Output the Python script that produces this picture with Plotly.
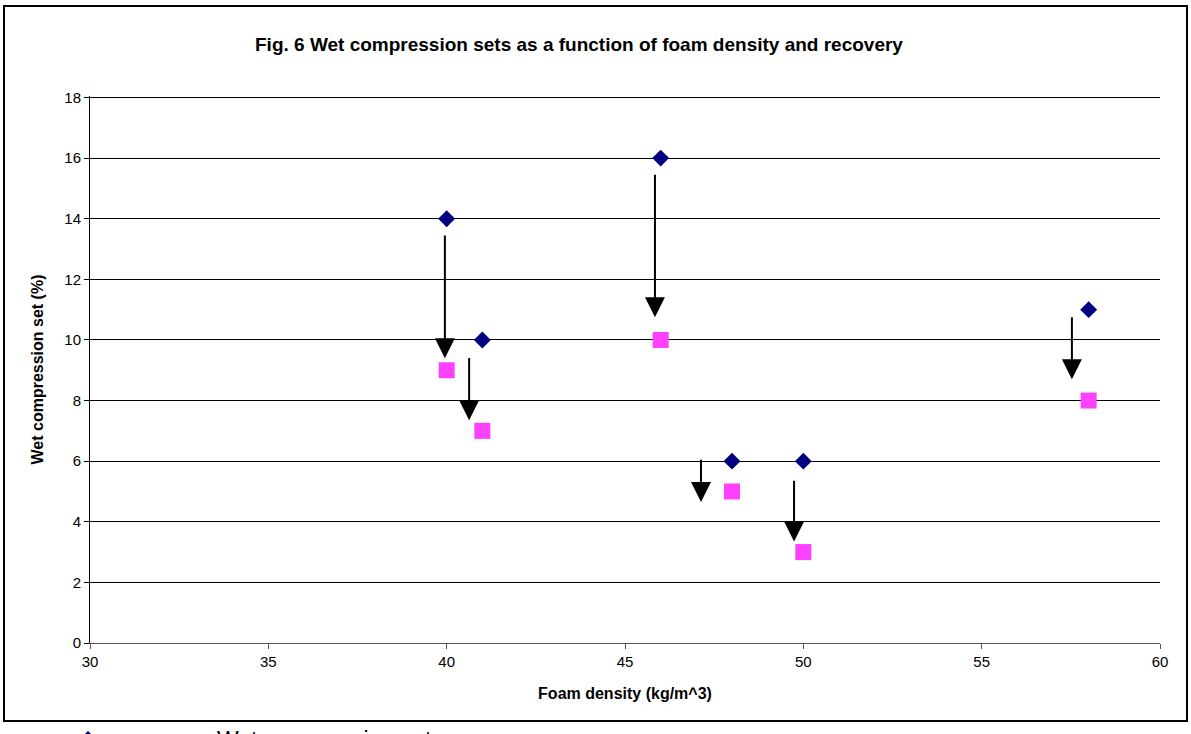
import plotly.graph_objects as go

# Foam density (kg/m^3) of each sample
density = [40, 41, 46, 48, 50, 58]
# Wet compression set (%) measured straight after the test
wet_set = [14, 10, 16, 6, 6, 11]
# Wet compression set (%) after recovery
recovered_set = [9, 7, 10, 5, 3, 8]

# Arrows showing the drop: x position, tail value, head value
arrow_x = [39.95, 40.63, 45.84, 47.13, 49.74, 57.53]
arrow_from = [13.5, 9.45, 15.5, 6.1, 5.4, 10.8]
arrow_to = [9.4, 7.35, 10.75, 4.65, 3.35, 8.7]

x_ticks = [30, 35, 40, 45, 50, 55, 60]
y_ticks = [0, 2, 4, 6, 8, 10, 12, 14, 16, 18]

W, H = 1191, 734
L, R, T, B = 90, 31, 96, 91
pw, ph = W - L - R, H - T - B


def px(x):
    return (x - L) / pw


def py(y):
    return (H - B - y) / ph


FONT = "Liberation Sans, Arial, sans-serif"

fig = go.Figure()
fig.add_trace(go.Scatter(
    x=density, y=wet_set, mode="markers", name="Wet compression set",
    marker=dict(symbol="diamond", size=13, color="#000080"),
    cliponaxis=False,
))
fig.add_trace(go.Scatter(
    x=density, y=recovered_set, mode="markers", name="After recovery",
    marker=dict(symbol="square", size=16, color="#FF40FF"),
    showlegend=False, cliponaxis=False,
))

for xa, y0, y1 in zip(arrow_x, arrow_from, arrow_to):
    fig.add_annotation(
        x=xa, y=y1, ax=xa, ay=y0, xref="x", yref="y", axref="x", ayref="y",
        text="", showarrow=True, arrowhead=2, arrowsize=2, arrowwidth=2,
        arrowcolor="black", standoff=0, startstandoff=0,
    )

# Chart title and outer frame
fig.add_annotation(
    text="<b>Fig. 6 Wet compression sets as a function of foam density and recovery</b>",
    x=px(579), y=py(45), xref="paper", yref="paper", showarrow=False,
    xanchor="center", yanchor="middle",
    font=dict(family=FONT, size=19, color="black"),
)
fig.add_shape(
    type="rect", xref="paper", yref="paper",
    x0=px(4), x1=px(1187), y0=py(721), y1=py(6),
    line=dict(color="black", width=2), layer="below",
)

fig.update_layout(
    width=W, height=H,
    margin=dict(l=L, r=R, t=T, b=B, autoexpand=False),
    paper_bgcolor="white", plot_bgcolor="white",
    font=dict(family=FONT, size=15, color="black"),
    showlegend=True,
    legend=dict(
        x=px(-41), y=py(718), xanchor="left", yanchor="top",
        font=dict(family=FONT, size=23, color="black"),
        itemwidth=248, bgcolor="rgba(0,0,0,0)",
    ),
    xaxis=dict(
        range=[30, 60], tickvals=x_ticks, showgrid=False, zeroline=False,
        showline=True, linecolor="#555555", linewidth=1,
        ticks="outside", ticklen=5, tickcolor="#555555",
        title=dict(text="<b>Foam density (kg/m^3)</b>", font=dict(size=16), standoff=18),
    ),
    yaxis=dict(
        range=[0, 18.05], tickvals=y_ticks, showgrid=True, gridcolor="black",
        gridwidth=1, zeroline=False,
        showline=True, linecolor="black", linewidth=1,
        ticks="outside", ticklen=5, tickcolor="black",
        title=dict(text="<b>Wet compression set (%)</b>", font=dict(size=16), standoff=16),
    ),
)

fig.write_html("out.html")
